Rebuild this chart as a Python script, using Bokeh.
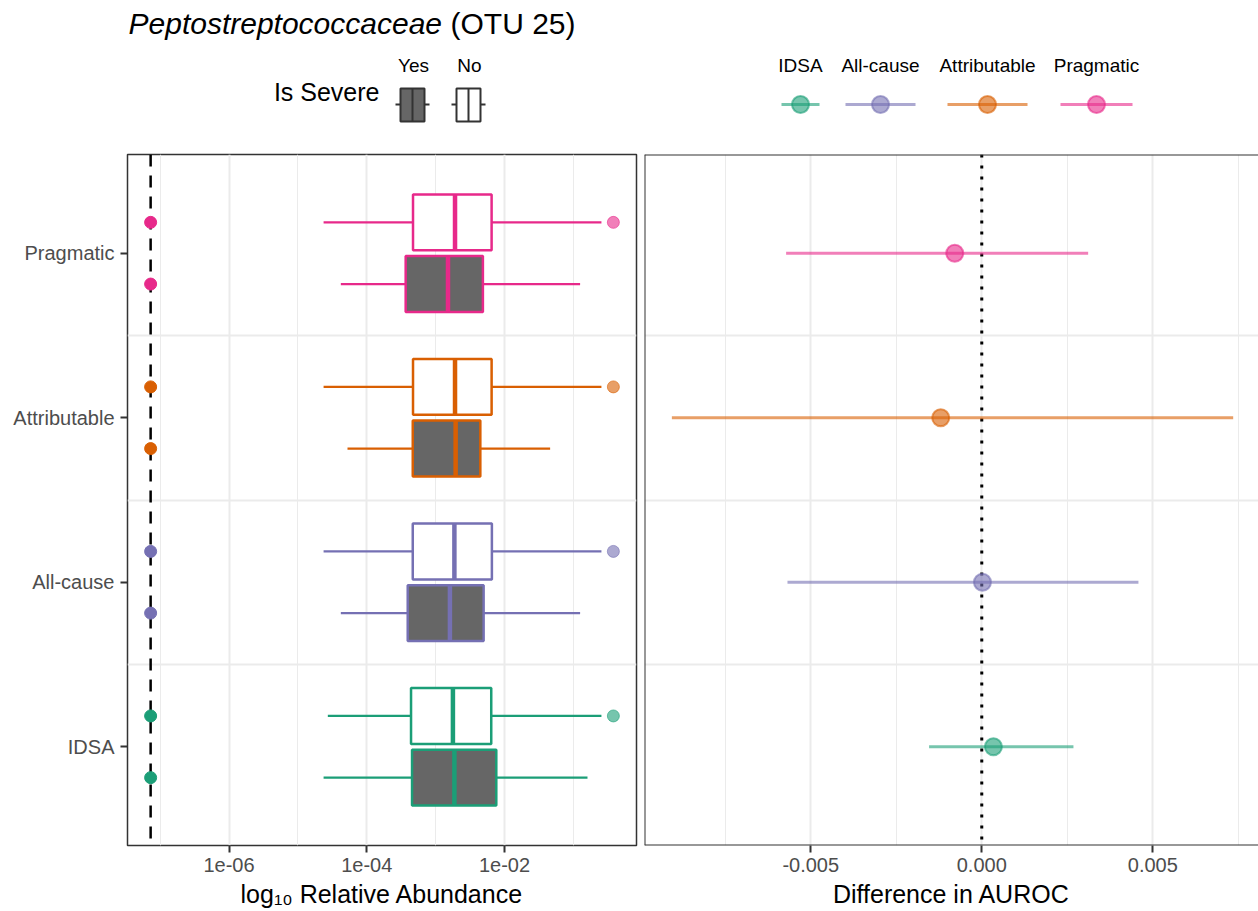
from bokeh.plotting import figure
from bokeh.layouts import column, row
from bokeh.models import (Range1d, FixedTicker, Span, CustomJSTickFormatter,
                          PrintfTickFormatter, ColumnDataSource)
from bokeh.embed import file_html
from bokeh.resources import INLINE
from bokeh.core.properties import value
import math

FONT = "Liberation Sans"

categories = ["IDSA", "All-cause", "Attributable", "Pragmatic"]
palette = ["#1B9E77", "#7570B3", "#D95F02", "#E7298A"]

# Relative abundance box summaries, severe = "Yes"
yes_lo = [2.36e-5, 4.20e-5, 5.25e-5, 4.20e-5]
yes_q1 = [4.54e-4, 3.93e-4, 4.65e-4, 3.67e-4]
yes_med = [1.87e-3, 1.61e-3, 1.95e-3, 1.51e-3]
yes_q3 = [7.59e-3, 4.97e-3, 4.45e-3, 4.85e-3]
yes_hi = [0.160, 0.125, 0.0459, 0.125]

# Relative abundance box summaries, severe = "No"
no_lo = [2.72e-5, 2.36e-5, 2.36e-5, 2.36e-5]
no_q1 = [4.39e-4, 4.65e-4, 4.69e-4, 4.69e-4]
no_med = [1.78e-3, 1.87e-3, 1.91e-3, 1.91e-3]
no_q3 = [6.41e-3, 6.55e-3, 6.49e-3, 6.49e-3]
no_hi = [0.255, 0.255, 0.255, 0.255]
no_outlier_hi = [0.38, 0.38, 0.38, 0.38]

# limit of detection (lowest observed abundance)
lod = 7.28e-8

# Difference in AUROC with confidence interval
auroc_diff = [0.00034, 0.00002, -0.00120, -0.00079]
auroc_lo = [-0.00154, -0.00568, -0.00906, -0.00572]
auroc_hi = [0.00268, 0.00458, 0.00735, 0.00311]

ypos = [1, 2, 3, 4]
dodge = 0.1875
box_h = 0.34

GRID = "#EBEBEB"
DARK = "#333333"
TICK_TXT = "#4D4D4D"


def style_axes(fig):
    for ax in fig.axis:
        ax.axis_line_color = None
        ax.major_tick_line_color = DARK
        ax.major_tick_line_width = 2
        ax.major_tick_out = 7
        ax.major_tick_in = 0
        ax.major_label_standoff = 5
        ax.minor_tick_line_color = None
        ax.major_label_text_font = FONT
        ax.major_label_text_font_size = "20px"
        ax.major_label_text_color = TICK_TXT
        ax.axis_label_text_font = FONT
        ax.axis_label_text_font_size = "25px"
        ax.axis_label_text_font_style = "normal"
        ax.axis_label_text_color = "black"
        ax.axis_label_standoff = 5


# ---------- left panel: abundance boxplots ----------
lo_log = math.log10(lod)
hi_log = math.log10(max(no_outlier_hi))
span_log = hi_log - lo_log
xr_left = Range1d(10 ** (lo_log - 0.05 * span_log), 10 ** (hi_log + 0.05 * span_log))
yr = Range1d(0.4, 4.6)

left = figure(width=640, height=761, x_axis_type="log", x_range=xr_left, y_range=yr,
              toolbar_location=None, output_backend="svg",
              min_border_left=127, min_border_right=4, min_border_top=4, min_border_bottom=66)
left.outline_line_color = DARK
left.outline_line_width = 1.5

xt = FixedTicker(ticks=[1e-6, 1e-4, 1e-2], minor_ticks=[1e-7, 1e-5, 1e-3, 1e-1])
left.xaxis.ticker = xt
left.xgrid.ticker = xt
left.xaxis.formatter = CustomJSTickFormatter(code="""
const e = Math.round(Math.log10(tick));
return '1e' + (e < 0 ? '-' : '+') + String(Math.abs(e)).padStart(2, '0');
""")
left.xgrid.grid_line_color = GRID
left.xgrid.grid_line_width = 2
left.xgrid.minor_grid_line_color = GRID
left.xgrid.minor_grid_line_width = 1

left.yaxis.ticker = FixedTicker(ticks=ypos)
left.yaxis.major_label_overrides = {y: c for y, c in zip(ypos, categories)}
left.ygrid.ticker = FixedTicker(ticks=[1.5, 2.5, 3.5])
left.ygrid.grid_line_color = GRID
left.ygrid.grid_line_width = 2
left.xaxis.axis_label = "log\u2081\u2080 Relative Abundance"
style_axes(left)
left.yaxis.major_label_standoff = 6

left.add_layout(Span(location=lod, dimension="height", line_color="black",
                     line_width=2.5, line_dash="12 9", level="underlay"))

groups = [
    ([y + dodge for y in ypos], no_lo, no_q1, no_med, no_q3, no_hi, "white"),
    ([y - dodge for y in ypos], yes_lo, yes_q1, yes_med, yes_q3, yes_hi, "#666666"),
]
for yy, lo, q1, med, q3, hi, fill in groups:
    src = ColumnDataSource(dict(y=yy, lo=lo, q1=q1, med=med, q3=q3, hi=hi,
                                ytop=[v + box_h / 2 for v in yy],
                                ybot=[v - box_h / 2 for v in yy],
                                lod=[lod] * 4, color=palette))
    left.segment(x0="lo", y0="y", x1="q1", y1="y", line_color="color", line_width=2.2, source=src)
    left.segment(x0="q3", y0="y", x1="hi", y1="y", line_color="color", line_width=2.2, source=src)
    left.hbar(y="y", height=box_h, left="q1", right="q3", fill_color=fill,
              line_color="color", line_width=2.5, source=src)
    left.segment(x0="med", y0="ybot", x1="med", y1="ytop", line_color="color",
                 line_width=4.5, source=src)
    left.scatter(x="lod", y="y", size=12, fill_color="color", line_color="color",
                 line_width=1, source=src)

out_src = ColumnDataSource(dict(x=no_outlier_hi, y=[y + dodge for y in ypos], color=palette))
left.scatter(x="x", y="y", size=12, fill_color="color", line_color="color",
             fill_alpha=0.6, line_alpha=0.6, line_width=1, source=out_src)

# ---------- right panel: difference in AUROC ----------
xr_right = Range1d(-0.00986, 0.00809)
right = figure(width=618, height=761, x_range=xr_right, y_range=yr,
               y_axis_location=None, toolbar_location=None, output_backend="svg",
               min_border_left=4, min_border_right=0, min_border_top=4, min_border_bottom=66)
right.outline_line_color = None
xt2 = FixedTicker(ticks=[-0.005, 0.0, 0.005], minor_ticks=[-0.0075, -0.0025, 0.0025, 0.0075])
right.xaxis.ticker = xt2
right.xgrid.ticker = xt2
right.xaxis.formatter = PrintfTickFormatter(format="%.3f")
right.xgrid.grid_line_color = GRID
right.xgrid.grid_line_width = 2
right.xgrid.minor_grid_line_color = GRID
right.xgrid.minor_grid_line_width = 1
right.ygrid.ticker = FixedTicker(ticks=[1.5, 2.5, 3.5])
right.ygrid.grid_line_color = GRID
right.ygrid.grid_line_width = 2
right.xaxis.axis_label = "Difference in AUROC"
style_axes(right)

for loc, dim in [(xr_right.start, "height"), (yr.start, "width"), (yr.end, "width")]:
    right.add_layout(Span(location=loc, dimension=dim, line_color=DARK, line_width=2))
right.add_layout(Span(location=0, dimension="height", line_color="black",
                      line_width=3, line_dash="3 8", level="underlay"))

ci_src = ColumnDataSource(dict(y=ypos, est=auroc_diff, lo=auroc_lo, hi=auroc_hi, color=palette))
right.segment(x0="lo", y0="y", x1="hi", y1="y", line_color="color", line_width=3,
              line_alpha=0.6, source=ci_src)
right.scatter(x="est", y="y", size=17, fill_color="color", line_color="color",
              fill_alpha=0.6, line_alpha=0.6, line_width=2, source=ci_src)

# ---------- header: title and legends ----------
hdr = figure(width=1258, height=150, x_range=Range1d(0, 1258), y_range=Range1d(150, 0),
             x_axis_location=None, y_axis_location=None, toolbar_location=None,
             output_backend="svg", min_border=0)
hdr.grid.visible = False
hdr.outline_line_color = None

hdr.text(x=[128], y=[23], text=["Peptostreptococcaceae"], text_font=value(FONT),
         text_font_style="italic", text_font_size="30px", text_baseline="middle",
         text_color="black")
hdr.text(x=[450], y=[23], text=["(OTU 25)"], text_font=value(FONT),
         text_font_size="30px", text_baseline="middle", text_color="black")

# severity legend
hdr.text(x=[379], y=[91], text=["Is Severe"], text_font=value(FONT), text_font_size="25px",
         text_align="right", text_baseline="middle", text_color="black")
sev_keys = [("Yes", 412, "#666666"), ("No", 468, "white")]
for lab, cx, fill in sev_keys:
    hdr.text(x=[cx + 1], y=[65], text=[lab], text_font=value(FONT), text_font_size="19px",
             text_align="center", text_baseline="middle", text_color="black")
    hdr.segment(x0=[cx - 17], y0=[104], x1=[cx + 17], y1=[104], line_color=DARK, line_width=2)
    hdr.quad(left=[cx - 12], right=[cx + 12], top=[88], bottom=[121], fill_color=fill,
             line_color=DARK, line_width=2)
    hdr.segment(x0=[cx], y0=[88], x1=[cx], y1=[121], line_color=DARK, line_width=2)

# definition legend
leg_x = [800, 880, 987, 1096]
leg_half = [19, 35, 40, 36]
for lab, cx, hw, col in zip(categories, leg_x, leg_half, palette):
    hdr.text(x=[cx], y=[65], text=[lab], text_font=value(FONT), text_font_size="19px",
             text_align="center", text_baseline="middle", text_color="black")
    hdr.segment(x0=[cx - hw], y0=[104], x1=[cx + hw], y1=[104], line_color=col,
                line_width=3, line_alpha=0.6)
    hdr.scatter(x=[cx], y=[104], size=17, fill_color=col, line_color=col,
                fill_alpha=0.6, line_alpha=0.6, line_width=2)

layout = column(hdr, row(left, right))
open("out.html", "w").write(file_html(layout, INLINE))
